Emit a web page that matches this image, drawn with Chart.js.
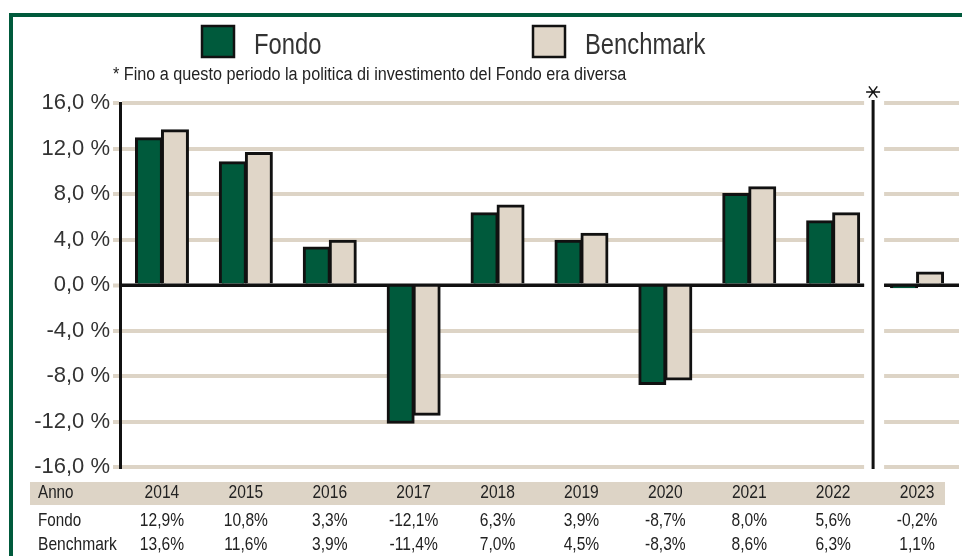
<!DOCTYPE html>
<html>
<head>
<meta charset="utf-8">
<script src="https://cdn.jsdelivr.net/npm/chart.js@4.4.1/dist/chart.umd.min.js"></script>
<style>
  html, body { margin: 0; padding: 0; background: #fff; }
  #wrap { position: relative; width: 962px; height: 556px; }
</style>
</head>
<body>
<div id="wrap"><canvas id="chart" width="962" height="556"></canvas></div>
<script>
// values
const years = ['2014', '2015', '2016', '2017', '2018', '2019', '2020', '2021', '2022', '2023'];
const fondo = [12.9, 10.8, 3.3, -12.1, 6.3, 3.9, -8.7, 8.0, 5.6, -0.2];
const benchmark = [13.6, 11.6, 3.9, -11.4, 7.0, 4.5, -8.3, 8.6, 6.3, 1.1];
const yTicks = [-16, -12, -8, -4, 0, 4, 8, 12, 16];
const footnote = '* Fino a questo periodo la politica di investimento del Fondo era diversa';

const GREEN = '#005a3c';
const BEIGE = '#e0d6c8';
const GRID = '#ddd4c6';
const SANS = '"Liberation Sans", Arial, sans-serif';

function fmt(v) {
  return v.toFixed(1).replace('.', ',') + '%';
}

// condensed text: regular sans squeezed horizontally
function narrow(c, text, x, y, size, align, sx) {
  c.save();
  c.font = size + 'px ' + SANS;
  c.textAlign = align || 'left';
  c.translate(x, y);
  c.scale(sx || 0.8, 1);
  c.fillText(text, 0, 0);
  c.restore();
}

function sepX(chart) {
  const x = chart.scales.x;
  return (x.getPixelForValue(8) + x.getPixelForValue(9)) / 2 - 2;
}

// frame, legend, note, separator, table
const decor = {
  id: 'decor',
  beforeDraw(chart) {
    const c = chart.ctx;
    c.save();
    c.fillStyle = GREEN;
    c.fillRect(9, 13, chart.width - 9, 4);
    c.fillRect(9, 13, 4, chart.height - 13);

    // legend
    const lx = [201, 532];
    chart.data.datasets.forEach((ds, i) => {
      c.fillStyle = ds.backgroundColor;
      c.fillRect(lx[i], 25, 34, 33);
      c.lineWidth = 2.5;
      c.strokeStyle = '#111';
      c.strokeRect(lx[i] + 1, 26, 32, 31);
      c.fillStyle = '#333';
      c.textBaseline = 'alphabetic';
      narrow(c, ds.label, lx[i] + 53, 54, 29, 'left', 0.82);
    });

    c.fillStyle = '#222';
    narrow(c, footnote, 113, 80, 18, 'left', 0.9);
    c.restore();
  },
  beforeDatasetsDraw(chart) {
    const c = chart.ctx;
    const a = chart.chartArea;
    const sep = sepX(chart);
    c.save();
    // gap in grid lines around the separator
    c.fillStyle = '#fff';
    c.fillRect(sep - 9, a.top - 4, 20, a.bottom - a.top + 8);
    c.restore();
  },
  afterDatasetsDraw(chart) {
    const c = chart.ctx;
    const a = chart.chartArea;
    const y0 = chart.scales.y.getPixelForValue(0);
    const sep = sepX(chart);
    c.save();
    c.strokeStyle = '#111';
    c.lineWidth = 3;
    c.beginPath();
    c.moveTo(a.left, y0); c.lineTo(sep - 9, y0);
    c.moveTo(sep + 11, y0); c.lineTo(a.right, y0);
    c.stroke();
    c.restore();
  },
  afterDraw(chart) {
    const c = chart.ctx;
    const x = chart.scales.x;
    const a = chart.chartArea;
    const sep = sepX(chart);
    c.save();
    c.strokeStyle = '#111';
    c.lineWidth = 3;
    c.beginPath();
    c.moveTo(sep, a.top - 3);
    c.lineTo(sep, a.bottom + 2);
    c.stroke();
    // asterisk
    c.lineWidth = 1.5;
    const cy = a.top - 11, r = 7;
    c.beginPath();
    c.moveTo(sep - r, cy); c.lineTo(sep + r, cy);
    c.moveTo(sep - r * 0.6, cy - r * 0.8); c.lineTo(sep + r * 0.6, cy + r * 0.8);
    c.moveTo(sep + r * 0.6, cy - r * 0.8); c.lineTo(sep - r * 0.6, cy + r * 0.8);
    c.stroke();

    // table
    c.fillStyle = GRID;
    c.fillRect(30, 482, 915, 23);
    c.fillStyle = '#222';
    c.textBaseline = 'middle';
    narrow(c, 'Anno', 38, 493, 19, 'left');
    narrow(c, 'Fondo', 38, 521, 19, 'left');
    narrow(c, 'Benchmark', 38, 545, 19, 'left', 0.82);
    years.forEach((yr, i) => {
      const px = x.getPixelForValue(i);
      narrow(c, yr, px, 493, 19, 'center', 0.82);
      narrow(c, fmt(fondo[i]), px, 521, 19, 'center', 0.82);
      narrow(c, fmt(benchmark[i]), px, 545, 19, 'center', 0.82);
    });
    c.restore();
  }
};

new Chart(document.getElementById('chart'), {
  type: 'bar',
  data: {
    labels: years,
    datasets: [
      { label: 'Fondo', data: fondo, backgroundColor: GREEN },
      { label: 'Benchmark', data: benchmark, backgroundColor: BEIGE }
    ]
  },
  options: {
    responsive: false,
    animation: false,
    layout: { padding: { left: 0, right: 3, top: 103, bottom: 89 } },
    datasets: {
      bar: {
        categoryPercentage: 0.62,
        barPercentage: 1,
        borderColor: '#111',
        borderWidth: 3,
        borderSkipped: 'start',
        inflateAmount: 1
      }
    },
    plugins: {
      legend: { display: false },
      tooltip: { enabled: false }
    },
    scales: {
      x: { display: false },
      y: {
        min: -16,
        max: 16,
        afterBuildTicks(s) { s.ticks = yTicks.map(v => ({ value: v })); },
        afterFit(s) { s.width = 120; },
        border: { display: true, color: '#111', width: 3 },
        grid: {
          color: ctx => ctx.tick && ctx.tick.value === 0 ? '#111' : GRID,
          lineWidth: ctx => ctx.tick && ctx.tick.value === 0 ? 3 : 4,
          tickColor: GRID,
          tickLength: 7,
          tickWidth: 4
        },
        ticks: {
          padding: 3,
          color: '#333',
          font: { family: SANS, size: 22 },
          callback: v => v.toFixed(1).replace('.', ',') + ' %'
        }
      }
    }
  },
  plugins: [decor]
});
</script>
</body>
</html>
